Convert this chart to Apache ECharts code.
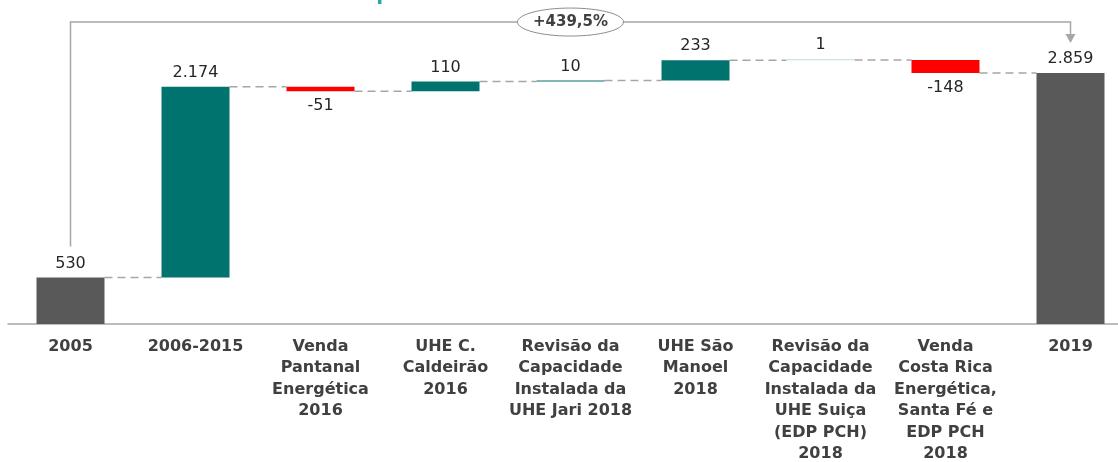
<!DOCTYPE html>
<html>
<head>
<meta charset="utf-8">
<script src="https://cdn.jsdelivr.net/npm/echarts@6/dist/echarts.min.js"></script>
<style>html,body{margin:0;padding:0;background:#fff}#c{width:1118px;height:462px}</style>
</head>
<body>
<div id="c"></div>
<script>
const categories = [
  '2005',
  '2006-2015',
  'Venda\nPantanal\nEnergética\n2016',
  'UHE C.\nCaldeirão\n2016',
  'Revisão da\nCapacidade\nInstalada da\nUHE Jari 2018',
  'UHE São\nManoel\n2018',
  'Revisão da\nCapacidade\nInstalada da\nUHE Suiça\n(EDP PCH)\n2018',
  'Venda\nCosta Rica\nEnergética,\nSanta Fé e\nEDP PCH\n2018',
  '2019'
];
const kinds = ['total', 'delta', 'delta', 'delta', 'delta', 'delta', 'delta', 'delta', 'total'];
const values = [530, 2174, -51, 110, 10, 233, 1, -148, 2859];
const growthLabel = '+439,5%';
const titleText = 'Capacidade Instalada EDP Brasil em MW';

const TEAL = '#00736f', RED = '#ff0000', GRAY = '#595959', LIGHT = '#b9e1e1';

// derive waterfall pieces
const base = [], totalS = [], upS = [], downS = [], level = [];
let run = 0;
values.forEach((v, i) => {
  if (kinds[i] === 'total') {
    base.push(0); totalS.push(v); upS.push('-'); downS.push('-'); run = v;
  } else if (v >= 0) {
    base.push(run); upS.push(v); totalS.push('-'); downS.push('-'); run += v;
  } else {
    base.push(run + v); downS.push(-v); totalS.push('-'); upS.push('-'); run += v;
  }
  level.push(run);
});

const fmt = v => {
  const s = Math.abs(v).toString().replace(/\B(?=(\d{3})+(?!\d))/g, '.');
  return (v < 0 ? '-' : '') + s;
};

const upData = upS.map((v, i) => v === '-' ? '-' : (v < 5 ? {value: v, itemStyle: {color: LIGHT}} : v));

const labelFont = {fontFamily: 'DejaVu Sans', fontSize: 16, color: '#262626'};

const chart = echarts.init(document.getElementById('c'), null, {renderer: 'canvas'});
chart.setOption({
  animation: false,
  title: {
    text: titleText, left: 343, top: -20,
    textStyle: {color: '#2ba6a5', fontSize: 20, fontWeight: 'bold', fontFamily: 'DejaVu Sans'}
  },
  grid: {left: 8, width: 1125, top: 8, bottom: 138, outerBoundsMode: 'none', containLabel: false},
  xAxis: {
    type: 'category', data: categories,
    axisLine: {lineStyle: {color: '#a6a6a6', width: 1.5}},
    axisTick: {show: false},
    axisLabel: {interval: 0, fontFamily: 'DejaVu Sans', fontWeight: 'bold', fontSize: 16, color: '#404040', lineHeight: 21.5, margin: 12}
  },
  yAxis: {type: 'value', min: 0, max: 3600, show: false, splitLine: {show: false}},
  series: [
    {type: 'bar', stack: 'w', data: base, barWidth: 68, itemStyle: {color: 'transparent'}, silent: true},
    {type: 'bar', stack: 'w', data: totalS, barWidth: 68, itemStyle: {color: GRAY},
      label: Object.assign({show: true, position: 'top', distance: 6, formatter: p => fmt(p.value)}, labelFont)},
    {type: 'bar', stack: 'w', data: upData, barWidth: 68, barMinHeight: 1, itemStyle: {color: TEAL},
      label: Object.assign({show: true, position: 'top', distance: 6, formatter: p => fmt(p.value)}, labelFont)},
    {type: 'bar', stack: 'w', data: downS, barWidth: 68, itemStyle: {color: RED},
      label: Object.assign({show: true, position: 'bottom', distance: 7, formatter: p => fmt(-p.value)}, labelFont)},
    {
      type: 'custom', silent: true, z: 1,
      data: level.slice(0, -1).map((l, i) => [i, l]),
      renderItem: (params, api) => {
        const i = api.value(0), l = api.value(1);
        const a = api.coord([i, l]), b = api.coord([i + 1, l]);
        return {type: 'line', shape: {x1: a[0] + 34, y1: a[1], x2: b[0] - 34, y2: b[1]},
          style: {stroke: '#a6a6a6', lineWidth: 1.5, lineDash: [8, 5]}};
      }
    },
    {
      type: 'custom', silent: true, z: 5,
      data: [[0, 8, values[0], values[8], 3440]],
      renderItem: (params, api) => {
        const a = api.coord([api.value(0), api.value(2)]);
        const b = api.coord([api.value(1), api.value(3)]);
        const topY = api.coord([0, api.value(4)])[1];
        const ly = a[1] - 31, ry = b[1] - 30;
        const mx = (a[0] + b[0]) / 2;
        return {type: 'group', children: [
          {type: 'polyline', shape: {points: [[a[0], ly], [a[0], topY], [b[0], topY], [b[0], ry - 8]]},
            style: {stroke: '#a6a6a6', lineWidth: 1.5, fill: null}},
          {type: 'polygon', shape: {points: [[b[0] - 5, ry - 9], [b[0] + 5, ry - 9], [b[0], ry]]},
            style: {fill: '#a6a6a6'}},
          {type: 'ellipse', shape: {cx: mx, cy: topY, rx: 53, ry: 14},
            style: {fill: '#fff', stroke: '#8c8c8c', lineWidth: 1}},
          {type: 'text', x: mx, y: topY, style: {text: growthLabel, align: 'center', verticalAlign: 'middle',
            fontFamily: 'DejaVu Sans', fontWeight: 'bold', fontSize: 15, fill: '#404040'}}
        ]};
      }
    }
  ]
});
</script>
</body>
</html>
